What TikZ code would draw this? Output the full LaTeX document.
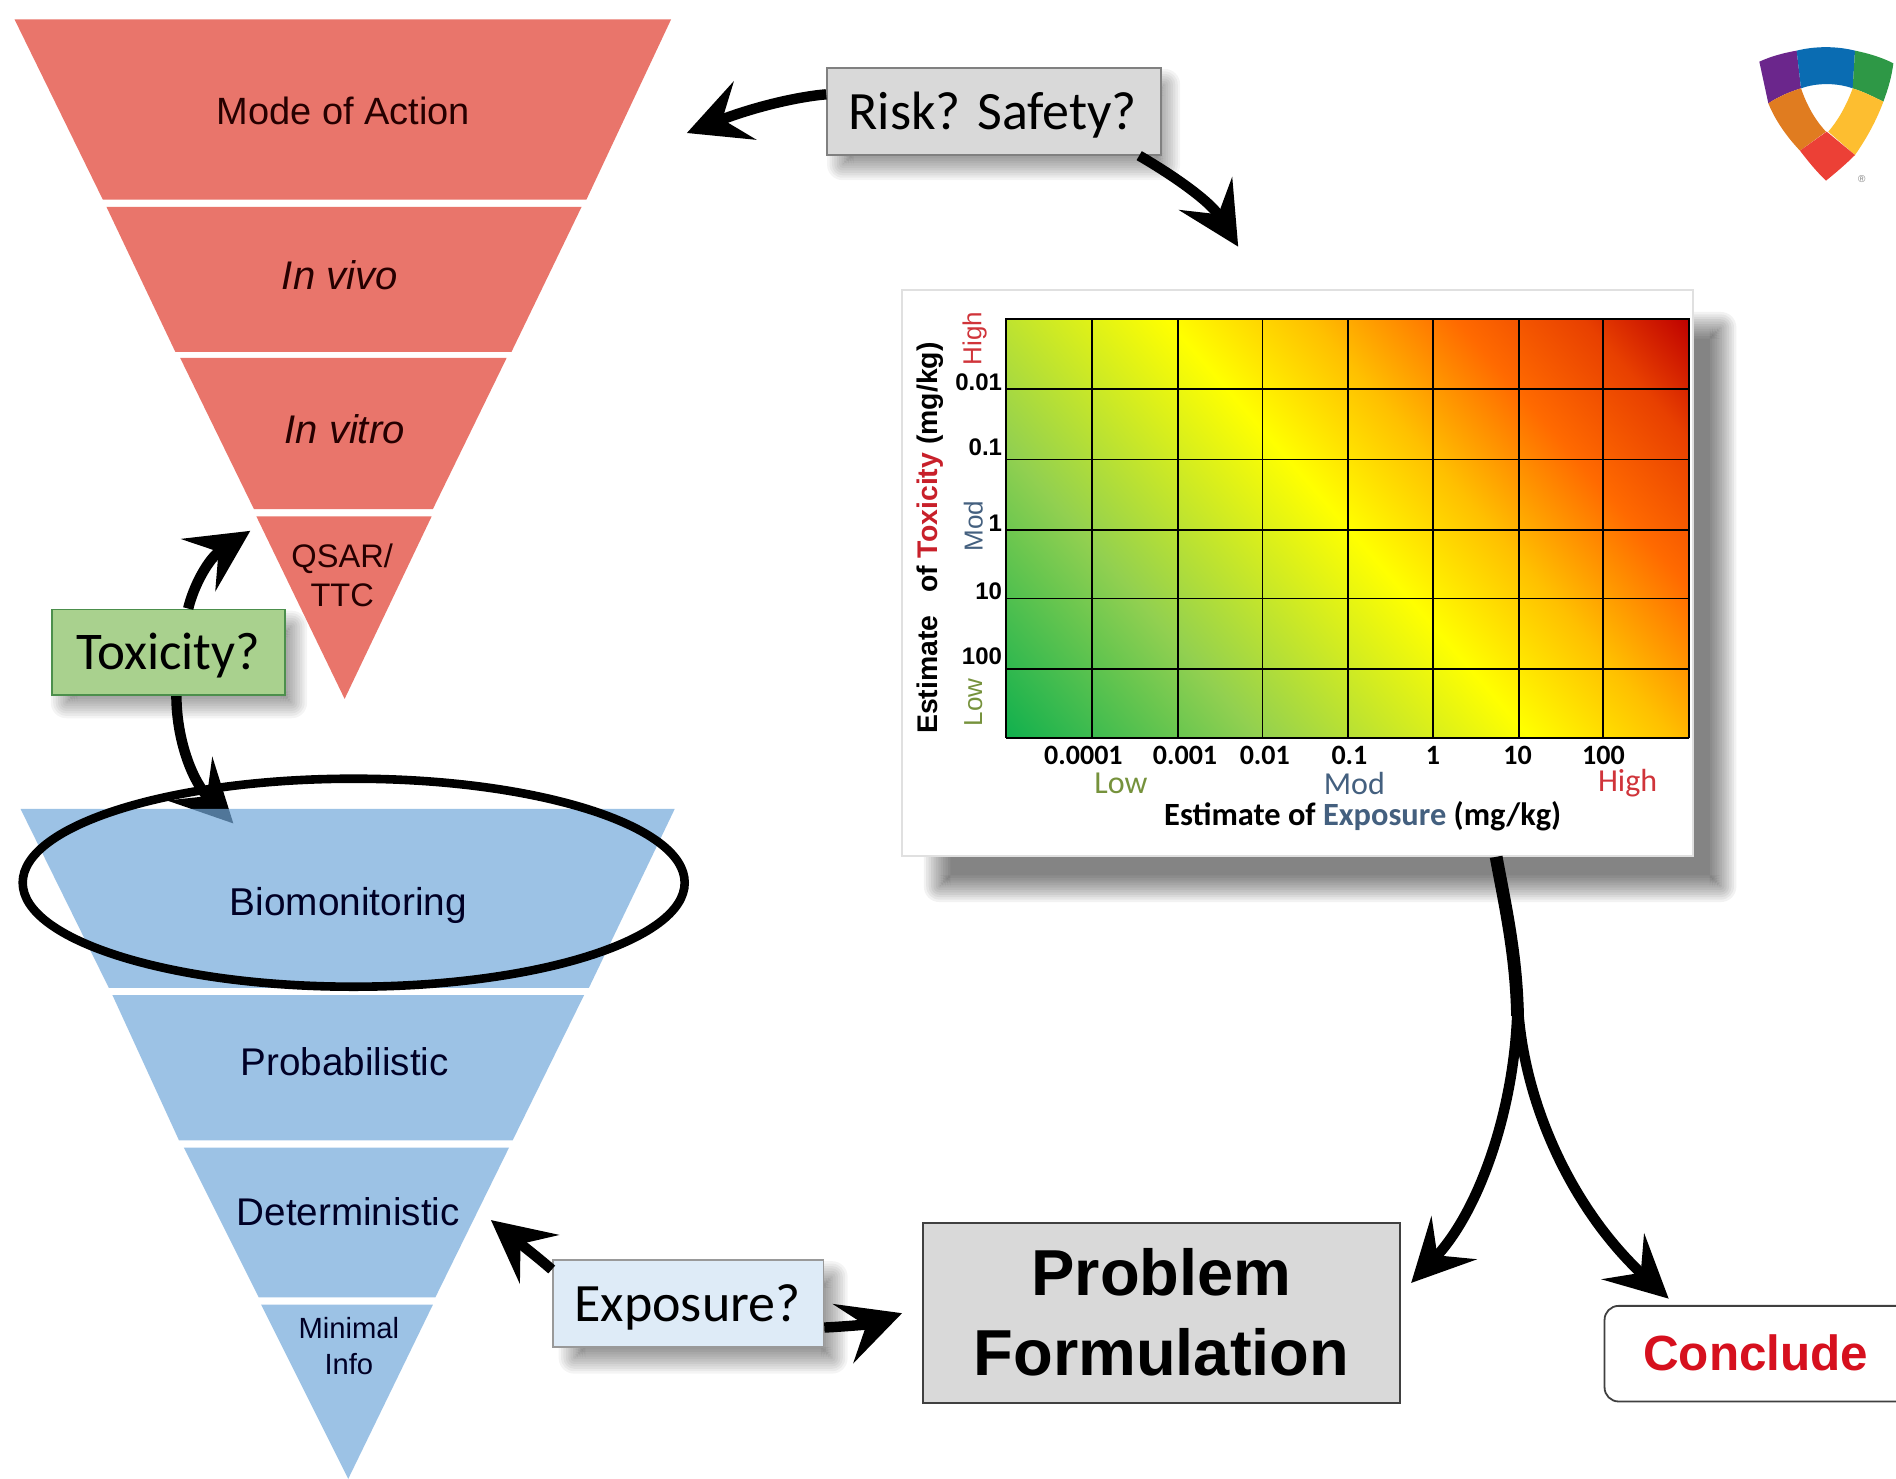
\documentclass[tikz,border=0pt]{standalone}
\usepackage{fontspec}
\setmainfont{Liberation Sans}
\newfontfamily\cb{Carlito}
\usetikzlibrary{arrows.meta,shapes.geometric}
\newcommand{\fsz}[2]{\fontsize{#1pt}{#2pt}\selectfont}
\definecolor{redtri}{HTML}{E9756B}
\definecolor{bluetri}{HTML}{73A9DB}
\definecolor{hA}{HTML}{10B04E}
\definecolor{hB}{HTML}{92D050}
\definecolor{hC}{HTML}{FFFF00}
\definecolor{hD}{HTML}{FFC000}
\definecolor{hE}{HTML}{FF6A00}
\definecolor{hF}{HTML}{E84000}
\definecolor{hG}{HTML}{BE0000}
\definecolor{cLow}{HTML}{76923C}
\definecolor{cMod}{HTML}{44607F}
\definecolor{cHigh}{HTML}{D0343A}
\definecolor{cTox}{HTML}{C8202A}
\pgfdeclarehorizontalshading{heatmap}{100bp}{color(0bp)=(hA);color(26.6bp)=(hA);color(37.9bp)=(hB);color(50bp)=(hC);color(56.4bp)=(hD);color(62.9bp)=(hE);color(68.6bp)=(hF);color(73.4bp)=(hG);color(100bp)=(hG)}
\newcommand{\softrect}[5]{% x1 y1 x2 y2 opacity per layer
  \foreach \i in {0,...,11}{
    \pgfmathsetmacro{\gr}{12-2*\i}
    \pgfmathsetmacro{\rr}{(12-2*\i+1)*0.6}
    \fill[black,opacity=#5,rounded corners=\rr pt] ({#1-\gr},{#2-\gr}) rectangle ({#3+\gr},{#4+\gr});
  }}
\tikzset{
  toptxt/.style={text=black!85!red,align=center,inner sep=0pt},
  bottxt/.style={text=black!85!blue,align=center,inner sep=0pt},
  qbox/.style={draw=#1,line width=0.9pt,inner sep=0pt},
  bigarrow/.style={line width=5.2pt,draw=black,-{Stealth[length=31pt,width=31pt,inset=12pt]}},
  tick/.style={inner sep=0pt,font=\bfseries\fsz{12}{14}},
  xtick/.style={inner sep=0pt,font=\cb\bfseries\fsz{14}{16}},
  xlev/.style={inner sep=0pt,font=\cb\fsz{16}{18}},
  ylev/.style={inner sep=0pt,rotate=90,font=\fsz{13}{15}},
}
\begin{document}
\begin{tikzpicture}[x=0.6046pt,y=-0.6046pt]
\useasboundingbox (0,0) rectangle (1568,1223);
\clip (0,0) rectangle (1568,1223);
\fill[white] (0,0) rectangle (1568,1223);

% red pyramid
\fill[redtri] (12,16) -- (555,16) -- (485,165) -- (85,165) -- cycle;
\fill[redtri] (88,171) -- (481,171) -- (423,291) -- (145,291) -- cycle;
\fill[redtri] (149,296) -- (419,296) -- (358,421) -- (210,421) -- cycle;
\fill[redtri] (212,427) -- (357,427) -- (285,578) -- cycle;
\node[toptxt,font=\fsz{19}{23}] (moa) at (284,92) {Mode of Action};
\node[toptxt,font=\itshape\fsz{20}{24}] (vivo) at (281,228) {In vivo};
\node[toptxt,font=\itshape\fsz{20}{24}] (vitro) at (285,355) {In vitro};
\node[toptxt,font=\fsz{16.3}{19.3}] (qsar) at (283,476) {QSAR/\\TTC};

% shadows and boxes on the left
\softrect{54}{517}{242}{582}{0.045}
\coordinate (toxTip) at (207,439);
\coordinate (bioTip) at (193,681);
\node[qbox=black!35!green!40!gray,fill={rgb,255:red,169;green,209;blue,142},minimum width=116.7pt,minimum height=42.9pt] (tox) at (139.5,539.5) {};
\node[inner sep=0pt,font=\cb\fsz{26.5}{30}] (toxtxt) at (139,542) {Toxicity?};
\draw[bigarrow] (tox.66) .. controls (160,485) and (172,462) .. (toxTip);
\draw[bigarrow] (tox.-80) .. controls (146,610) and (158,645) .. (bioTip);

% blue pyramid (translucent over the arrow tip)
\fill[bluetri,fill opacity=0.7] (17,669) -- (558,669) -- (487,817) -- (90,817) -- cycle;
\fill[bluetri,fill opacity=0.7] (93,823) -- (483,823) -- (424,943) -- (148,943) -- cycle;
\fill[bluetri,fill opacity=0.7] (152,949) -- (421,949) -- (360,1073) -- (214,1073) -- cycle;
\fill[bluetri,fill opacity=0.7] (216,1079) -- (358,1079) -- (288,1223) -- cycle;
\node[bottxt,font=\fsz{19.4}{24}] (bio) at (288,749) {Biomonitoring};
\node[bottxt,font=\fsz{19.3}{23}] (prob) at (285,878) {Probabilistic};
\node[bottxt,font=\fsz{19.3}{23}] (det) at (288,1002) {Deterministic};
\node[bottxt,font=\fsz{14.6}{18}] (minfo) at (288.5,1113) {Minimal\\Info};
\node[draw=black,line width=4.3pt,ellipse,inner sep=0pt,minimum width=331pt,minimum height=104pt] (focus) at (292.5,730) {};

% risk box
\softrect{696}{69}{964}{137}{0.045}
\node[qbox=black!50,fill=black!15,minimum width=166.9pt,minimum height=43.5pt] (risk) at (822,92) {};
\node[inner sep=0pt,font=\cb\fsz{27}{31}] (risktxt) at (821,95) {Risk? Safety?};
\coordinate (riskTip) at (568,110);
\coordinate (chartTip) at (1024,204);
\draw[bigarrow] (risk.west |- 0,78) .. controls (660,80) and (625,88) .. (riskTip);
\draw[bigarrow] (risk.-17) .. controls (965,142) and (1000,165) .. (chartTip);

% chart card
\softrect{776}{270}{1424}{734}{0.05}
\node[draw=black!12,line width=0.7pt,fill=white,inner sep=0pt,minimum width=395.4pt,minimum height=283pt] (card) at (1073,474) {};
\begin{scope}
  \clip (832,263) rectangle (1397,610);
  \shade[shading=heatmap,shading angle=41] (765,87) rectangle (1465,787);
\end{scope}
\foreach \gx in {832,903,974,1044,1115,1185,1256,1326,1397}
  \draw[black,line width=0.9pt] (\gx,263) -- (\gx,610);
\foreach \gy in {264,322,380,438,495,553,610}
  \draw[black,line width=0.9pt] (832,\gy) -- (1397,\gy);
% y axis
\node[tick,anchor=east] (ya) at (829,316) {0.01};
\node[tick,anchor=east] (yb) at (829,370) {0.1};
\node[tick,anchor=east] (yc) at (829,433) {1};
\node[tick,anchor=east] (yd) at (829,489) {10};
\node[tick,anchor=east] (ye) at (829,543) {100};
\node[ylev,text=cHigh] (yHigh) at (806,280) {High};
\node[ylev,text=cMod] (yMod) at (805,435) {Mod};
\node[ylev,text=cLow] (yLow) at (805,581) {Low};
\node[inner sep=0pt,rotate=90,font=\bfseries\fsz{14.2}{16}] (ytitle) at (769,445) {Estimate\hspace{0.8em}of {\color{cTox}Toxicity} (mg/kg)};
% x axis
\node[xtick] (xa) at (896,625) {0.0001};
\node[xtick] (xb) at (980,625) {0.001};
\node[xtick] (xc) at (1046,625) {0.01};
\node[xtick] (xd) at (1116,625) {0.1};
\node[xtick] (xe) at (1185,625) {1};
\node[xtick] (xf) at (1255,625) {10};
\node[xtick] (xg) at (1326,625) {100};
\node[xlev,text=cLow] (xLow) at (927,648) {Low};
\node[xlev,text=cMod] (xMod) at (1120,648) {Mod};
\node[xlev,text=cHigh] (xHigh) at (1346,648) {High};
\node[inner sep=0pt,font=\cb\bfseries\fsz{16.2}{18}] (xtitle) at (1127,675) {Estimate of {\color{cMod}Exposure} (mg/kg)};

% lower boxes
\softrect{474}{1055}{689}{1124}{0.045}
\node[qbox=black!40,fill={rgb,255:red,222;green,235;blue,247},minimum width=135.4pt,minimum height=43.5pt] (expo) at (569,1078) {};
\node[inner sep=0pt,font=\cb\fsz{27}{31}] (expotxt) at (568.5,1081) {Exposure?};
\node[draw=black!75,line width=1pt,fill=black!15,minimum width=238.8pt,minimum height=90pt,align=center,inner sep=0pt,font=\bfseries\fsz{32.5}{40}] (pf) at (960.5,1085.5) {Problem\\Formulation};
\node[draw=black!75,line width=0.9pt,fill=white,rounded corners=7pt,minimum width=153pt,minimum height=47.8pt,inner sep=0pt] (concl) at (1453.5,1119.5) {};
\node[inner sep=0pt,text={rgb,255:red,214;green,16;blue,30},font=\bfseries\fsz{24.7}{28}] (concltxt) at (1452,1119) {Conclude};

\coordinate (detTip) at (406,1009);
\coordinate (pfIn) at (746,1086);
\draw[bigarrow] (expo.166) .. controls (445,1040) and (432,1030) .. (detTip);
\draw[bigarrow] (expo.-10) .. controls (700,1097) and (720,1095) .. (pfIn);

% branching arrow from the chart
\coordinate (split) at (1255,825);
\coordinate (pfTip) at (1167,1061);
\coordinate (conTip) at (1380,1074);
\draw[bigarrow] (split) .. controls (1255,910) and (1225,1000) .. (pfTip);
\draw[bigarrow] (split) .. controls (1258,910) and (1300,1000) .. (conTip);
\draw[line width=6.4pt,black] (card.-55.3) .. controls (1245,750) and (1254,790) .. (1255,840);

% logo
\begin{scope}[shift={(1405.9,16.54)},x=0.16667pt,y=-0.16667pt]
  \node[inner sep=0pt,text=black!50,font=\fsz{5}{6}] (regmark) at (485,478) {®};
  \fill[fill={rgb,255:red,107;green,38;blue,140}] (178,125) .. controls (215,108) and (255,98) .. (290,92) -- (303,205) .. controls (270,215) and (235,230) .. (205,250) -- cycle;
  \fill[fill={rgb,255:red,10;green,108;blue,178}] (290,92) .. controls (345,78) and (410,78) .. (465,92) -- (458,205) .. controls (410,188) and (350,188) .. (303,205) -- cycle;
  \fill[fill={rgb,255:red,46;green,152;blue,70}] (465,92) .. controls (505,100) and (545,112) .. (580,130) .. controls (575,170) and (565,205) .. (550,245) .. controls (520,230) and (490,215) .. (458,205) -- cycle;
  \fill[fill={rgb,255:red,224;green,124;blue,32}] (205,250) .. controls (235,230) and (270,215) .. (303,205) .. controls (320,255) and (345,300) .. (378,335) -- (300,392) .. controls (260,350) and (225,300) .. (205,250) -- cycle;
  \fill[fill={rgb,255:red,253;green,190;blue,48}] (458,205) .. controls (490,215) and (520,230) .. (550,245) .. controls (530,300) and (500,355) .. (465,405) -- (385,335) .. controls (415,300) and (440,255) .. (458,205) -- cycle;
  \fill[fill={rgb,255:red,236;green,64;blue,54}] (300,392) -- (380,335) -- (465,405) .. controls (435,435) and (405,460) .. (378,482) .. controls (350,455) and (325,425) .. (300,392) -- cycle;
\end{scope}
\end{tikzpicture}
\end{document}
